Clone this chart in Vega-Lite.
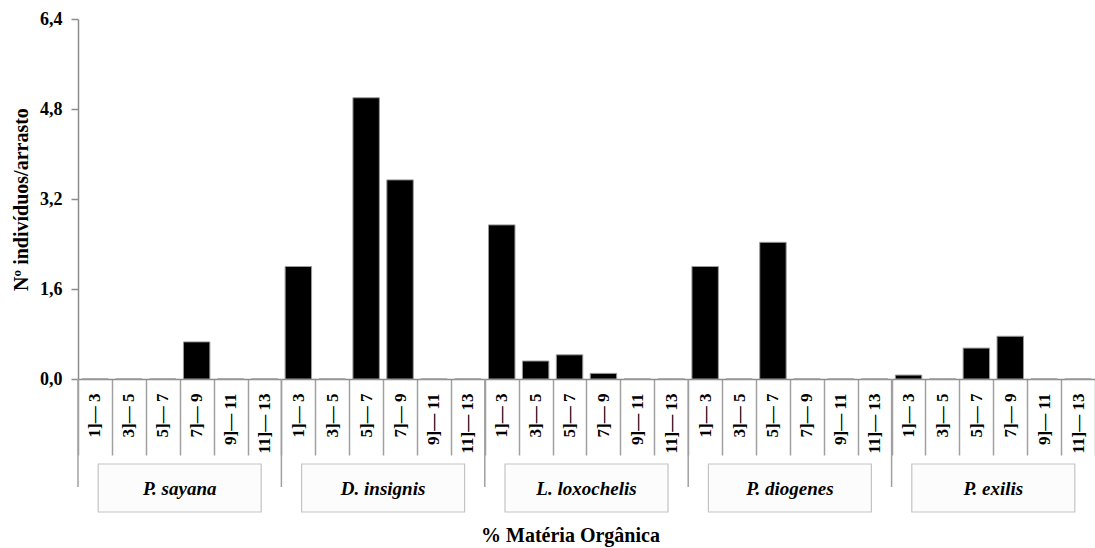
{
  "$schema": "https://vega.github.io/schema/vega-lite/v6.json",
  "width": 1017,
  "height": 360,
  "autosize": {"type": "none"},
  "padding": {"left": 78, "top": 19, "right": 0, "bottom": 169},
  "background": "white",
  "config": {
    "font": "Liberation Serif",
    "view": {"stroke": null},
    "axis": {"grid": false}
  },
  "data": {
    "values": [
      {"species": "P. sayana", "bin": "1]— 3", "value": 0},
      {"species": "P. sayana", "bin": "3]— 5", "value": 0},
      {"species": "P. sayana", "bin": "5]— 7", "value": 0},
      {"species": "P. sayana", "bin": "7]— 9", "value": 0.66},
      {"species": "P. sayana", "bin": "9]— 11", "value": 0},
      {"species": "P. sayana", "bin": "11]— 13", "value": 0},
      {"species": "D. insignis", "bin": "1]— 3", "value": 2.0},
      {"species": "D. insignis", "bin": "3]— 5", "value": 0},
      {"species": "D. insignis", "bin": "5]— 7", "value": 5.0},
      {"species": "D. insignis", "bin": "7]— 9", "value": 3.54},
      {"species": "D. insignis", "bin": "9]— 11", "value": 0},
      {"species": "D. insignis", "bin": "11]— 13", "value": 0},
      {"species": "L. loxochelis", "bin": "1]— 3", "value": 2.74},
      {"species": "L. loxochelis", "bin": "3]— 5", "value": 0.32},
      {"species": "L. loxochelis", "bin": "5]— 7", "value": 0.43},
      {"species": "L. loxochelis", "bin": "7]— 9", "value": 0.1},
      {"species": "L. loxochelis", "bin": "9]— 11", "value": 0},
      {"species": "L. loxochelis", "bin": "11]— 13", "value": 0},
      {"species": "P. diogenes", "bin": "1]— 3", "value": 2.0},
      {"species": "P. diogenes", "bin": "3]— 5", "value": 0},
      {"species": "P. diogenes", "bin": "5]— 7", "value": 2.43},
      {"species": "P. diogenes", "bin": "7]— 9", "value": 0},
      {"species": "P. diogenes", "bin": "9]— 11", "value": 0},
      {"species": "P. diogenes", "bin": "11]— 13", "value": 0},
      {"species": "P. exilis", "bin": "1]— 3", "value": 0.07},
      {"species": "P. exilis", "bin": "3]— 5", "value": 0},
      {"species": "P. exilis", "bin": "5]— 7", "value": 0.55},
      {"species": "P. exilis", "bin": "7]— 9", "value": 0.76},
      {"species": "P. exilis", "bin": "9]— 11", "value": 0},
      {"species": "P. exilis", "bin": "11]— 13", "value": 0}
    ]
  },
  "transform": [
    {"calculate": "datum.species + '|' + datum.bin", "as": "key"}
  ],
  "encoding": {
    "x": {
      "field": "key",
      "type": "nominal",
      "sort": null,
      "scale": {
        "paddingInner": 0,
        "paddingOuter": 0,
        "domain": [
          "P. sayana|1]— 3", "P. sayana|3]— 5", "P. sayana|5]— 7", "P. sayana|7]— 9", "P. sayana|9]— 11", "P. sayana|11]— 13",
          "D. insignis|1]— 3", "D. insignis|3]— 5", "D. insignis|5]— 7", "D. insignis|7]— 9", "D. insignis|9]— 11", "D. insignis|11]— 13",
          "L. loxochelis|1]— 3", "L. loxochelis|3]— 5", "L. loxochelis|5]— 7", "L. loxochelis|7]— 9", "L. loxochelis|9]— 11", "L. loxochelis|11]— 13",
          "P. diogenes|1]— 3", "P. diogenes|3]— 5", "P. diogenes|5]— 7", "P. diogenes|7]— 9", "P. diogenes|9]— 11", "P. diogenes|11]— 13",
          "P. exilis|1]— 3", "P. exilis|3]— 5", "P. exilis|5]— 7", "P. exilis|7]— 9", "P. exilis|9]— 11", "P. exilis|11]— 13"
        ]
      },
      "axis": {
        "title": "% Matéria Orgânica",
        "titleFont": "Liberation Serif",
        "titleFontSize": 20,
        "titleFontWeight": "bold",
        "titleColor": "black",
        "titleX": 492,
        "titleY": 162,
        "titleAlign": "center",
        "titleAnchor": null,
        "titleBaseline": "alphabetic",
        "labelExpr": "split(datum.label, '|')[1]",
        "labelAngle": -90,
        "labelAlign": "right",
        "labelBaseline": "middle",
        "labelFontSize": 17,
        "labelFontWeight": "bold",
        "labelColor": "black",
        "labelPadding": -62,
        "labelOverlap": false,
        "tickBand": "extent",
        "tickSize": 76,
        "tickColor": "#a0a0a0",
        "tickWidth": 1.5,
        "domainColor": "#8c8c8c",
        "domainWidth": 1.5
      }
    }
  },
  "layer": [
    {
      "mark": {"type": "bar", "width": {"band": 0.78}, "color": "black", "stroke": "#9a9a9a", "strokeWidth": 1},
      "encoding": {
        "y": {
          "field": "value",
          "type": "quantitative",
          "scale": {"domain": [0, 6.4], "nice": false},
          "axis": {
            "title": "Nº indivíduos/arrasto",
            "titleFontSize": 20,
            "titleFontWeight": "bold",
            "titleColor": "black",
            "titlePadding": 8,
            "values": [0, 1.6, 3.2, 4.8, 6.4],
            "labelExpr": "replace(format(datum.value, '.1f'), '.', ',')",
            "labelFontSize": 18,
            "labelFontWeight": "bold",
            "labelColor": "black",
            "labelPadding": 9,
            "tickSize": 7,
            "tickColor": "#8c8c8c",
            "tickWidth": 1.5,
            "domainColor": "#8c8c8c",
            "domainWidth": 1.5
          }
        }
      }
    },
    {
      "transform": [{"filter": "datum.bin == '1]— 3'"}],
      "mark": {"type": "rule", "color": "#a0a0a0", "strokeWidth": 1.5},
      "encoding": {
        "x": {"field": "key", "type": "nominal", "bandPosition": 0},
        "y": {"datum": 0},
        "y2": {"datum": -1.92}
      }
    },
    {
      "transform": [{"filter": "datum.bin == '5]— 7'"}],
      "mark": {
        "type": "point",
        "shape": "M-1,-0.2945H1V0.2945H-1Z",
        "size": 26569,
        "filled": true,
        "fill": "#fcfcfc",
        "stroke": "#c4c4c4",
        "strokeWidth": 1.2,
        "opacity": 1
      },
      "encoding": {
        "x": {"field": "key", "type": "nominal", "bandPosition": 1},
        "y": {"datum": -1.938}
      }
    },
    {
      "transform": [{"filter": "datum.bin == '5]— 7'"}],
      "mark": {
        "type": "text",
        "font": "Liberation Serif",
        "fontSize": 19,
        "fontWeight": "bold",
        "fontStyle": "italic",
        "color": "black",
        "baseline": "middle",
        "align": "center",
        "dy": 1
      },
      "encoding": {
        "x": {"field": "key", "type": "nominal", "bandPosition": 1},
        "y": {"datum": -1.938},
        "text": {"field": "species"}
      }
    }
  ]
}
